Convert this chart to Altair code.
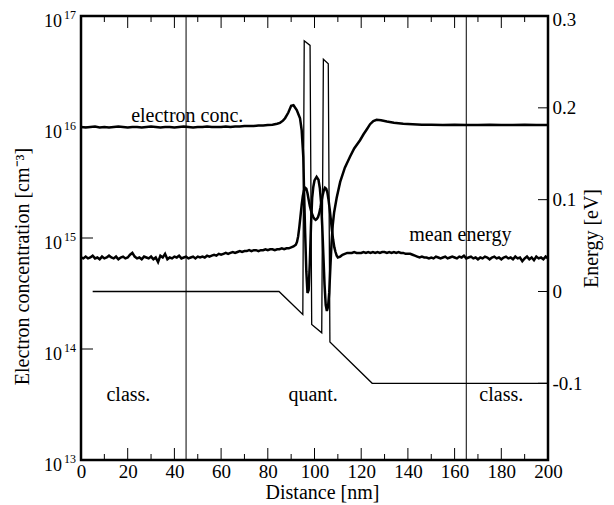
import altair as alt
import pandas as pd

FONT = "Liberation Serif"
W, H = 467, 444

# ---- potential profile (right axis, eV) ----
pot_x = [5, 84.8, 95.0, 95.6, 98.1, 98.8, 103.1, 103.8, 105.9, 106.6, 124.7, 200]
pot_e = [0.0, 0.0, -0.025, 0.273, 0.268, -0.036, -0.045, 0.253, 0.248, -0.055, -0.1, -0.1]

# ---- electron concentration (left axis, cm^-3) ----
ec_x = [0, 2, 4, 6, 8, 10, 12, 14, 16, 18, 20, 22, 24, 26, 28, 30, 32, 34, 36, 38,
        40, 42, 44, 46, 48, 50, 52, 54, 56, 58, 60, 62, 64, 66, 68, 70, 72, 74, 76, 78,
        80, 82, 84, 85.2, 86.5, 87.4, 88.8, 90, 91, 92.4, 93.8, 94.5, 95.2, 95.6, 96, 96.5,
        97, 97.5, 98, 98.5, 99, 99.5, 100, 100.9, 101.7, 102.3, 102.8, 103.3, 103.8, 104.3,
        104.8, 105.3, 105.8, 106.3, 106.8, 107.3, 107.8, 108.4, 109.5, 111, 113, 115.2, 117,
        119.5, 121, 122.5, 123.8, 125.2, 126.6, 128.5, 131, 134, 138, 142, 146, 150, 155,
        160, 165, 170, 175, 180, 185, 190, 195, 200]
ec_n = [1.00e16, 0.99e16, 1.00e16, 1.01e16, 0.99e16, 1.00e16, 0.99e16, 1.00e16, 1.01e16, 1.00e16,
        0.99e16, 1.00e16, 1.00e16, 0.99e16, 1.00e16, 1.01e16, 1.00e16, 0.99e16, 1.00e16, 1.00e16,
        0.99e16, 1.00e16, 1.01e16, 1.00e16, 0.99e16, 1.00e16, 1.00e16, 1.01e16, 1.00e16, 1.00e16,
        1.00e16, 1.01e16, 1.00e16, 1.01e16, 1.01e16, 1.02e16, 1.02e16, 1.02e16, 1.03e16, 1.03e16,
        1.04e16, 1.05e16, 1.07e16, 1.09e16, 1.14e16, 1.20e16, 1.35e16, 1.55e16, 1.57e16, 1.42e16,
        1.20e16, 9.4e15, 5.4e15, 2.3e15, 1.1e15, 5.0e14,
        3.2e14, 3.4e14, 6.0e14, 1.3e15, 2.3e15, 2.9e15, 3.3e15, 3.55e15, 3.35e15, 2.8e15,
        2.1e15, 1.3e15, 7.0e14, 3.8e14,
        2.5e14, 2.2e14, 2.4e14, 3.2e14, 5.5e14, 9.0e14, 1.3e15, 1.7e15, 2.3e15, 3.2e15, 4.3e15,
        5.4e15, 6.4e15, 7.6e15, 8.6e15, 9.6e15, 1.06e16, 1.13e16, 1.16e16, 1.15e16, 1.12e16,
        1.09e16, 1.07e16, 1.06e16, 1.05e16, 1.05e16, 1.04e16, 1.05e16, 1.04e16, 1.04e16,
        1.05e16, 1.04e16, 1.04e16, 1.05e16, 1.04e16, 1.04e16]

# ---- mean energy (right axis, values in meV) ----
me_x = list(range(0, 90)) + [
    90, 91, 92, 92.5, 93, 93.5, 94, 94.5, 95, 95.5, 96, 96.5, 97, 97.5, 98, 98.5, 99,
    99.5, 100, 100.5, 101, 101.5, 102, 102.5, 103, 103.5, 104, 104.5, 105, 105.5, 106,
    106.5, 107, 107.5, 108, 108.5, 109, 109.5] + list(range(110, 201))
me_mev = [
    37, 36, 38, 36, 37, 39, 36, 37, 35, 38, 36, 37, 39, 37, 36, 38, 35, 37, 38, 36,
    37, 40, 42, 38, 36, 37, 35, 38, 37, 36, 38, 35, 37, 32, 39, 37, 41, 35, 37, 36,
    38, 37, 39, 36, 37, 38, 36, 37, 38, 36, 38, 37, 38, 37, 39, 38, 39, 40, 39, 41,
    40, 41, 42, 41, 42, 43, 42, 43, 44, 43, 44, 44, 45, 44, 45, 45, 44, 45, 45, 46,
    45, 46, 46, 45, 46, 46, 47, 46, 47, 47,
    48, 49, 51, 54, 60, 70, 82, 94, 104, 110, 113, 112, 107, 100, 93, 88, 84,
    81, 79, 78, 79, 81, 85, 91, 98, 105, 110, 113, 112, 108, 100,
    90, 78, 66, 56, 48, 43, 39,
    37, 38, 40, 41, 42, 42, 42, 43, 42, 42, 42, 43, 42, 43, 42, 43, 42, 43, 42, 43,
    43, 42, 43, 42, 43, 42, 43, 42, 42, 41, 41, 41, 40, 39, 38, 37, 38, 37, 37, 36,
    37, 36, 38, 37, 36, 37, 38, 36, 37, 38, 37, 36, 38, 37, 39, 36, 37, 38, 36, 37,
    35, 37, 36, 38, 37, 35, 37, 38, 36, 37, 35, 37, 38, 36, 37, 35, 38, 36, 37, 33,
    36, 38, 35, 37, 34, 38, 36, 37, 35, 38, 36]

# ---- axis ticks / labels ----
x_major = [0, 20, 40, 60, 80, 100, 120, 140, 160, 180, 200]
x_minor = [10, 30, 50, 70, 90, 110, 130, 150, 170, 190]
dec_vals = [1e13, 1e14, 1e15, 1e16, 1e17]
dec_exp = ["13", "14", "15", "16", "17"]
e_ticks = [-0.1, 0.0, 0.1, 0.2]
e_labels = [-0.1, 0.0, 0.1, 0.2, 0.3]
region_lines = [45, 165]

# annotations
left_txt = ["electron conc.", "class.", "quant.", "class."]
left_txt_x = [45.5, 20.3, 99.4, 180]
left_txt_n = [1.25e16, 3.85e13, 3.85e13, 3.85e13]
me_txt_x = [162.5]
me_txt_e = [0.0555]

# ---------------- data frames ----------------
pot_df = pd.DataFrame({"x": pot_x, "e": pot_e})
ec_df = pd.DataFrame({"x": ec_x, "n": ec_n})
me_df = pd.DataFrame({"x": me_x, "e": [v / 1000 for v in me_mev]})
dec_df = pd.DataFrame({"x": [0] * len(dec_vals), "n": dec_vals, "exp": dec_exp})
xmaj_df = pd.DataFrame({"x": x_major})
xmin_df = pd.DataFrame({"x": x_minor})
etick_df = pd.DataFrame({"x": [200] * len(e_ticks), "e": e_ticks})
lt_df = pd.DataFrame({"x": left_txt_x, "n": left_txt_n, "t": left_txt})
mt_df = pd.DataFrame({"x": me_txt_x, "e": me_txt_e, "t": ["mean energy"]})
vl_df = pd.DataFrame({"x": region_lines})

x_scale = alt.Scale(domain=[0, 200], nice=False, zero=False)
x_axis = alt.Axis(values=x_major, labelFont=FONT, labelFontSize=19, labelColor="black",
                  ticks=False, domain=False, grid=False, labelPadding=2, labelFlush=False,
                  title="Distance [nm]", titleFont=FONT, titleFontSize=20, titleX=241,
                  titleFontWeight="normal", titleColor="black", titlePadding=1)
X = alt.X("x:Q", scale=x_scale, axis=x_axis)

yl_scale = alt.Scale(type="log", domain=[1e13, 1e17], nice=False)
yl_axis = alt.Axis(orient="left", labels=False, ticks=False, domain=False, grid=False,
                   title="Electron concentration [cm⁻³]", titleFont=FONT, titleFontSize=20,
                   titleFontWeight="normal", titleColor="black", titlePadding=49, titleY=250)
YL = alt.Y("n:Q", scale=yl_scale, axis=yl_axis)

yr_scale = alt.Scale(domain=[-0.1835, 0.3], nice=False, zero=False)
yr_axis = alt.Axis(orient="right", values=e_labels, ticks=False, domain=False, grid=False,
                   labelFont=FONT, labelFontSize=19, labelColor="black", labelPadding=4,
                   labelOffset={"condition": {"test": "datum.value >= 0.25", "value": 3}, "value": 0},
                   labelExpr="datum.value == 0 ? '0' : (datum.value < 0 ? '-' + format(-datum.value, '.1f') : format(datum.value, '.1f'))",
                   title="Energy [eV]", titleFont=FONT, titleFontSize=20, titleAngle=270,
                   titleFontWeight="normal", titleColor="black", titlePadding=19)
YR = alt.Y("e:Q", scale=yr_scale, axis=yr_axis)

ec_line = alt.Chart(ec_df).mark_line(color="black", strokeWidth=2.5).encode(x=X, y=YL)
ten = alt.Chart(dec_df).mark_text(font=FONT, fontSize=18, align="right", baseline="alphabetic",
                                  dx=-19, dy=11, color="black").encode(x=X, y=YL, text=alt.value("10"))
expo = alt.Chart(dec_df).mark_text(font=FONT, fontSize=12, align="right", baseline="alphabetic",
                                   dx=-5, dy=3, color="black").encode(x=X, y=YL, text="exp:N")
lticks = alt.Chart(dec_df).mark_rule(color="black", strokeWidth=1).encode(
    y=YL, x=alt.value(0), x2=alt.value(12))
ltext = alt.Chart(lt_df).mark_text(font=FONT, fontSize=20, baseline="middle", color="black").encode(
    x=X, y=YL, text="t:N")
xmaj_b = alt.Chart(xmaj_df).mark_rule(color="black", strokeWidth=1).encode(
    x=X, y=alt.value(H), y2=alt.value(H - 12))
xmaj_t = alt.Chart(xmaj_df).mark_rule(color="black", strokeWidth=1).encode(
    x=X, y=alt.value(0), y2=alt.value(12))
xmin_b = alt.Chart(xmin_df).mark_rule(color="black", strokeWidth=1).encode(
    x=X, y=alt.value(H), y2=alt.value(H - 6))
xmin_t = alt.Chart(xmin_df).mark_rule(color="black", strokeWidth=1).encode(
    x=X, y=alt.value(0), y2=alt.value(6))
vlines = alt.Chart(vl_df).mark_rule(color="black", strokeWidth=1).encode(x=X)

left = alt.layer(vlines, ec_line, ten, expo, lticks, ltext, xmaj_b, xmaj_t, xmin_b, xmin_t)

pot_line = alt.Chart(pot_df).mark_line(color="black", strokeWidth=1.3).encode(x=X, y=YR)
me_line = alt.Chart(me_df).mark_line(color="black", strokeWidth=2.5).encode(x=X, y=YR)
mtext = alt.Chart(mt_df).mark_text(font=FONT, fontSize=20, baseline="alphabetic", color="black").encode(
    x=X, y=YR, text="t:N")
rticks = alt.Chart(etick_df).mark_rule(color="black", strokeWidth=1).encode(
    y=YR, x=alt.value(W - 10), x2=alt.value(W))

right = alt.layer(pot_line, me_line, mtext, rticks)

chart = alt.layer(left, right).resolve_scale(y="independent").properties(
    width=W, height=H,
    autosize=alt.AutoSizeParams(type="none"),
    padding={"left": 73, "top": 8, "right": 58, "bottom": 46},
    background="white",
).configure_view(stroke="black", strokeWidth=2.5)

chart.save("out.html", embed_options={"renderer": "svg", "actions": False})
